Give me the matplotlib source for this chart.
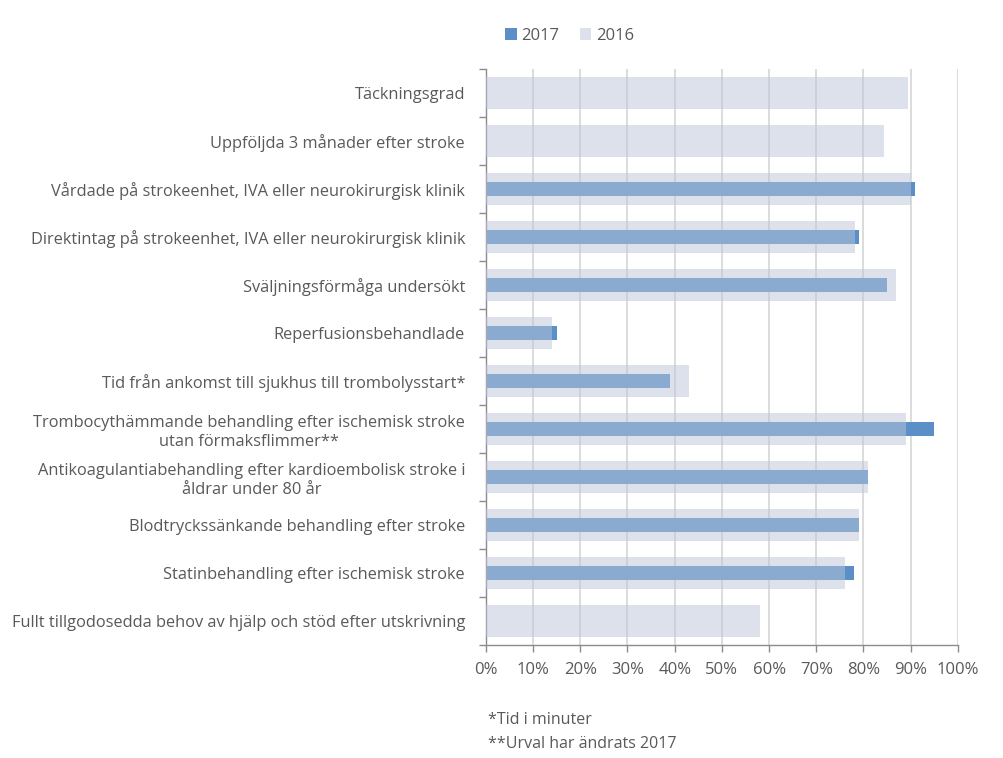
import matplotlib
matplotlib.use("Agg")
import matplotlib.pyplot as plt
import numpy as np

categories = [
    "Täckningsgrad",
    "Uppföljda 3 månader efter stroke",
    "Vårdade på strokeenhet, IVA eller neurokirurgisk klinik",
    "Direktintag på strokeenhet, IVA eller neurokirurgisk klinik",
    "Sväljningsförmåga undersökt",
    "Reperfusionsbehandlade",
    "Tid från ankomst till sjukhus till trombolysstart*",
    "Trombocythämmande behandling efter ischemisk stroke\nutan förmaksflimmer**",
    "Antikoagulantiabehandling efter kardioembolisk stroke i\nåldrar under 80 år",
    "Blodtryckssänkande behandling efter stroke",
    "Statinbehandling efter ischemisk stroke",
    "Fullt tillgodosedda behov av hjälp och stöd efter utskrivning",
]
values_2017 = [np.nan, np.nan, 91, 79, 85, 15, 39, 95, 81, 79, 78, np.nan]
values_2016 = [89.5, 84.3, 90, 78.2, 87, 14, 43, 89, 81, 79, 76, 58]
xticks = [0, 10, 20, 30, 40, 50, 60, 70, 80, 90, 100]
footnotes = ["*Tid i minuter", "**Urval har ändrats 2017"]

plt.rcParams['font.family'] = ['Open Sans', 'DejaVu Sans']
text_color = "#595959"

fig = plt.figure(figsize=(10.04, 7.58), dpi=100)
ax = fig.add_axes([0.484, 0.149, 0.470, 0.760])

n = len(categories)
y = np.arange(n)
c2017 = "#5a8fc8"
c2016 = "#bbc5d9"

ax.barh(y, np.nan_to_num(values_2017), height=0.29, color=c2017, zorder=2, label="2017")
ax.barh(y, values_2016, height=0.68, color=c2016, alpha=0.5, zorder=3, label="2016", linewidth=0)

ax.set_xlim(0, 100)
ax.set_ylim(n - 0.5, -0.5)
ax.set_xticks(xticks)
ax.set_xticklabels([f"{t}%" for t in xticks], fontsize=12, color=text_color)
ax.xaxis.grid(True, color="#d9d9d9", linewidth=1.3, zorder=0)
ax.set_axisbelow(True)

ax.set_yticks(y)
ax.set_yticklabels(categories, fontsize=11.8, color=text_color, multialignment='center', linespacing=1.25)
ax.tick_params(axis='y', length=0, pad=15)
ax.set_yticks(np.arange(-0.5, n, 1), minor=True)
ax.tick_params(axis='y', which='minor', length=5, color="#8c8c8c", width=1)
ax.tick_params(axis='x', length=5, color="#8c8c8c", width=1, pad=7)

for s in ["top", "right"]:
    ax.spines[s].set_visible(False)
for s in ["left", "bottom"]:
    ax.spines[s].set_color("#8c8c8c")
    ax.spines[s].set_linewidth(1)

h, l = ax.get_legend_handles_labels()
leg = fig.legend(h, l, loc="center left", bbox_to_anchor=(0.488, 0.953), ncol=2, frameon=False,
                 fontsize=12, handlelength=0.7, handleheight=0.7, handletextpad=0.3, columnspacing=1.2)
for t in leg.get_texts():
    t.set_color(text_color)

fig.text(0.486, 1 - 720 / 758, footnotes[0], fontsize=11.5, color=text_color, va="center")
fig.text(0.486, 1 - 744 / 758, footnotes[1], fontsize=11.5, color=text_color, va="center")

fig.savefig("out.png", dpi=100, facecolor="white")
